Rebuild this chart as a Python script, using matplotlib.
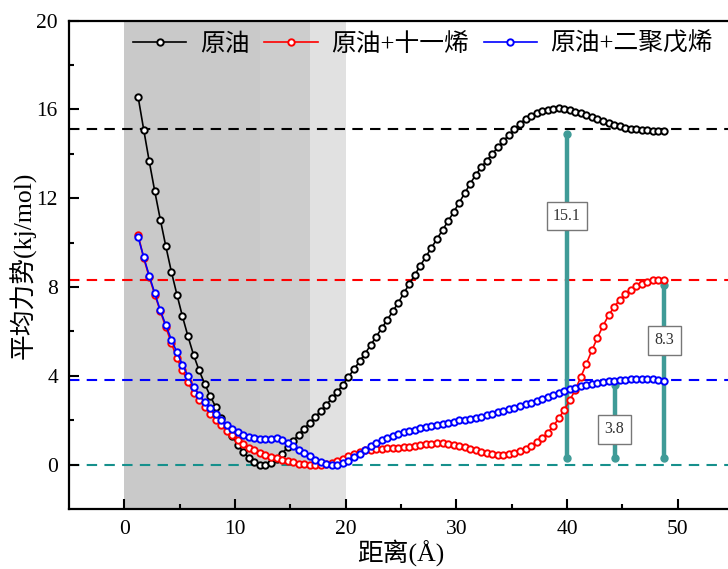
import numpy as np
import matplotlib
matplotlib.use('Agg')
import matplotlib.pyplot as plt

plt.rcParams['font.family'] = ['Liberation Serif', 'Noto Sans CJK SC']

# PMF 曲线 (kJ/mol), 采样间隔 0.5 Å, 从 1.25 Å 开始
y_crude = [16.55, 15.09, 13.66, 12.31, 11.04, 9.83, 8.69, 7.66, 6.68, 5.78,
           4.95, 4.25, 3.65, 3.10, 2.60, 2.12, 1.68, 1.27, 0.90, 0.57,
           0.30, 0.10, -0.01, -0.03, 0.08, 0.27, 0.50, 0.78, 1.06, 1.35,
           1.62, 1.88, 2.14, 2.42, 2.70, 2.98, 3.28, 3.60, 3.95, 4.30,
           4.65, 5.00, 5.38, 5.76, 6.14, 6.52, 6.90, 7.30, 7.72, 8.14,
           8.55, 8.97, 9.37, 9.77, 10.17, 10.57, 10.97, 11.37, 11.80, 12.22,
           12.66, 13.05, 13.40, 13.70, 14.00, 14.30, 14.58, 14.86, 15.12, 15.36,
           15.57, 15.72, 15.83, 15.92, 15.99, 16.03, 16.05, 16.04, 15.98, 15.90,
           15.82, 15.74, 15.66, 15.58, 15.50, 15.41, 15.32, 15.24, 15.18, 15.13,
           15.10, 15.07, 15.06, 15.05, 15.05, 15.05]
y_undecene = [10.35, 9.30, 8.45, 7.66, 6.91, 6.19, 5.48, 4.80, 4.25, 3.71,
              3.23, 2.93, 2.60, 2.28, 2.03, 1.77, 1.53, 1.32, 1.12, 0.93,
              0.77, 0.64, 0.53, 0.44, 0.36, 0.28, 0.21, 0.15, 0.10, 0.05,
              0.02, -0.01, -0.02, -0.01, 0.02, 0.07, 0.15, 0.26, 0.38, 0.48,
              0.57, 0.64, 0.68, 0.71, 0.72, 0.73, 0.75, 0.77, 0.78, 0.81,
              0.86, 0.89, 0.93, 0.95, 0.96, 0.96, 0.95, 0.90, 0.86, 0.80,
              0.72, 0.65, 0.59, 0.53, 0.47, 0.44, 0.44, 0.47, 0.53, 0.60,
              0.71, 0.86, 1.01, 1.20, 1.43, 1.73, 2.08, 2.47, 2.90, 3.38,
              3.95, 4.55, 5.15, 5.72, 6.25, 6.72, 7.10, 7.42, 7.68, 7.88,
              8.04, 8.16, 8.25, 8.31, 8.33, 8.30]
y_dipentene = [10.24, 9.35, 8.51, 7.72, 6.95, 6.28, 5.63, 5.06, 4.50, 3.98,
               3.50, 3.15, 2.82, 2.54, 2.28, 2.03, 1.80, 1.62, 1.46, 1.32,
               1.25, 1.20, 1.16, 1.16, 1.17, 1.18, 1.12, 0.98, 0.83, 0.68,
               0.53, 0.38, 0.23, 0.12, 0.04, 0.00, 0.00, 0.08, 0.18, 0.35,
               0.50, 0.65, 0.83, 0.98, 1.10, 1.20, 1.31, 1.38, 1.46, 1.52,
               1.58, 1.64, 1.70, 1.76, 1.80, 1.85, 1.89, 1.94, 2.00, 2.03,
               2.07, 2.12, 2.16, 2.22, 2.28, 2.36, 2.42, 2.51, 2.57, 2.64,
               2.72, 2.79, 2.87, 2.96, 3.05, 3.14, 3.23, 3.32, 3.40, 3.47,
               3.54, 3.59, 3.64, 3.68, 3.72, 3.75, 3.78, 3.81, 3.83, 3.85,
               3.86, 3.86, 3.86, 3.84, 3.81, 3.76]

labels = ['原油', '原油+十一烯', '原油+二聚戊烯']
colors = ['black', 'red', 'blue']

# 能垒参考线和标注
barrier_levels = [15.1, 8.3, 3.8]
barrier_x = [40.0, 48.8, 44.3]
barrier_text = ['15.1', '8.3', '3.8']
barrier_text_y = [11.2, 5.6, 1.6]

# 灰色区域
regions = [(0, 12.3), (12.3, 16.8), (16.8, 20.0)]
region_colors = ['#c9c9c9', '#cdcdcd', '#e1e1e1']

fig = plt.figure(figsize=(7.28, 5.69), dpi=100)
ax = fig.add_axes([0.0948, 0.1054, 0.9121, 0.8582])

for (a, b), c in zip(regions, region_colors):
    ax.axvspan(a, b, color=c, lw=0, zorder=0)

dash = (0, (5, 3.5))
for lvl, c in zip(barrier_levels, colors):
    ax.axhline(lvl, color=c, lw=1.5, ls=dash, zorder=1)
ax.axhline(0, color='#16908c', lw=1.5, ls=dash, zorder=1)

teal = '#3f9b97'
for bx, lvl in zip(barrier_x, barrier_levels):
    ax.plot([bx, bx], [0.3, lvl - 0.2], color=teal, lw=3.2, marker='o',
            markersize=5, solid_capstyle='round', zorder=2)

for ys, c, lab in zip([y_crude, y_undecene, y_dipentene], colors, labels):
    dist = 1.25 + 0.5 * np.arange(len(ys))
    ax.plot(dist, ys, color=c, lw=1.2, marker='o', markersize=4.6,
            markerfacecolor='white', markeredgecolor=c, markeredgewidth=1.4,
            label=lab, zorder=3)

for bx, ty, t in zip(barrier_x, barrier_text_y, barrier_text):
    ax.text(bx, ty, t, ha='center', va='center', fontsize=11.5, color='#333333',
            bbox=dict(boxstyle='square,pad=0.4', fc='white', ec='#777777', lw=1),
            zorder=4)

ax.set_xlim(-5, 55)
ax.set_ylim(-2, 20)
ax.set_xticks([0, 10, 20, 30, 40, 50])
ax.set_xticks([5, 15, 25, 35, 45], minor=True)
ax.set_yticks([0, 4, 8, 12, 16, 20])
ax.set_yticks([2, 6, 10, 14, 18], minor=True)
ax.tick_params(which='both', direction='in', width=1.5, labelsize=15.5, pad=8,
               top=False, right=False)
ax.tick_params(which='major', length=7)
ax.tick_params(which='minor', length=3.5)
for s in ax.spines.values():
    s.set_linewidth(1.6)

ax.set_xlabel('距离(Å)', fontsize=18.5, labelpad=0)
ax.set_ylabel('平均力势(kj/mol)', fontsize=18.5, labelpad=0)

ax.legend(loc='upper left', bbox_to_anchor=(0.079, 1.0), ncol=3, frameon=False,
          fontsize=17.8, handlelength=2.15, handletextpad=0.55, columnspacing=0.6,
          borderaxespad=0.08)

fig.savefig('out.png', dpi=100)
